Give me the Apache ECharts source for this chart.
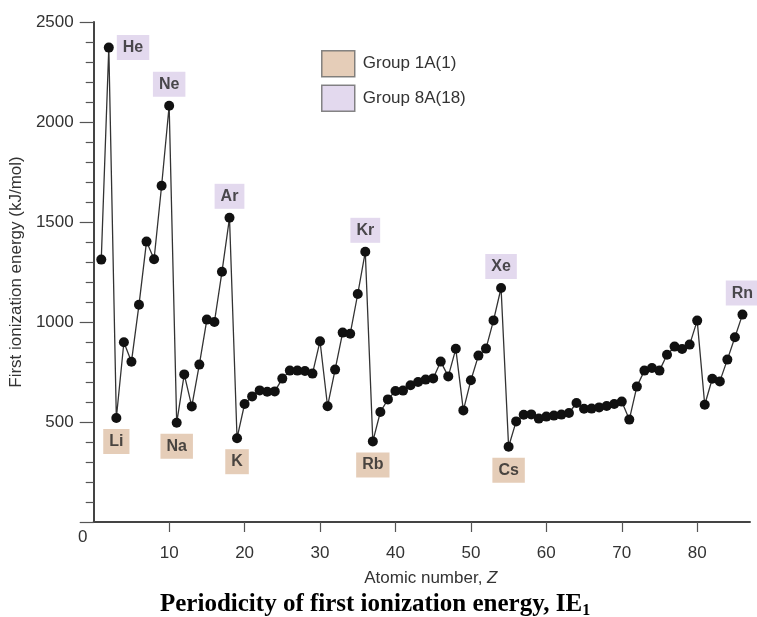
<!DOCTYPE html>
<html>
<head>
<meta charset="utf-8">
<script src="https://cdn.jsdelivr.net/npm/echarts@6/dist/echarts.min.js"></script>
<style>
  html, body { margin: 0; padding: 0; background: #fff; }
  #chart { width: 757px; height: 617px; }
</style>
</head>
<body>
<div id="chart"></div>
<script>
// first ionization energy (kJ/mol), Z = 1..86
const ie1 = [
  1312, 2372, 520, 899, 801, 1086, 1402, 1314, 1681, 2081,
  496, 738, 578, 787, 1012, 1000, 1251, 1521, 419, 590,
  628, 658, 651, 653, 717, 757, 757, 755, 742, 904,
  579, 762, 947, 941, 1140, 1351, 403, 550, 613, 655,
  657, 684, 700, 712, 718, 802, 728, 866, 558, 709,
  832, 867, 1008, 1170, 376, 503, 536, 538, 517, 527,
  532, 537, 545, 595, 566, 567, 573, 580, 590, 602,
  512, 677, 757, 770, 757, 836, 877, 865, 887, 1007,
  586, 716, 703, 812, 924, 1037
]
const atomicNumbers = ie1.map((_, i) => i + 1)

const group1Z = [3, 11, 19, 37, 55]
const group1Names = ['Li', 'Na', 'K', 'Rb', 'Cs']
const group18Z = [2, 10, 18, 36, 54, 86]
const group18Names = ['He', 'Ne', 'Ar', 'Kr', 'Xe', 'Rn']

const xTicks = [10, 20, 30, 40, 50, 60, 70, 80]

const tan = '#dfc0a6'
const lilac = '#dcd0ea'
const sans = 'Liberation Sans, Arial, sans-serif'
const serif = 'Liberation Serif, Times New Roman, serif'

const labelBox = {
  show: true,
  formatter: '{b}',
  fontFamily: sans,
  fontWeight: 'bold',
  fontSize: 16,
  lineHeight: 17,
  color: '#222',
  padding: [4, 6, 4, 6]
}

const chart = echarts.init(document.getElementById('chart'), null, { renderer: 'canvas' })

chart.setOption({
  backgroundColor: '#fff',
  animation: false,
  textStyle: { fontFamily: sans },
  title: {
    text: '{a|Periodicity of first ionization energy, IE}{s|1}',
    left: 160,
    top: 591,
    padding: 0,
    textStyle: {
      rich: {
        a: { fontFamily: serif, fontWeight: 'bold', fontSize: 25, color: '#000' },
        s: { fontFamily: serif, fontWeight: 'bold', fontSize: 16, color: '#000', padding: [12, 0, 0, 0] }
      }
    }
  },
  legend: {
    orient: 'vertical',
    left: 321,
    top: 50,
    padding: 0,
    itemWidth: 33,
    itemHeight: 26,
    itemGap: 7,
    selectedMode: false,
    textStyle: { fontSize: 17, color: '#333', padding: [0, 0, 0, 3] },
    data: [
      { name: 'Group 1A(1)', icon: 'rect', itemStyle: { color: tan, borderColor: '#666', borderWidth: 1.5 } },
      { name: 'Group 8A(18)', icon: 'rect', itemStyle: { color: lilac, borderColor: '#666', borderWidth: 1.5 } }
    ]
  },
  graphic: [
    { type: 'text', left: 78, top: 529, style: { text: '0', fontSize: 17, fill: '#333', fontFamily: sans } }
  ],
  grid: { left: 93, right: 7, top: 22, bottom: 95 },
  xAxis: {
    type: 'value',
    min: 0,
    max: 87,
    name: '{n|Atomic number, }{z|Z}',
    nameLocation: 'middle',
    nameGap: 48,
    nameTextStyle: {
      padding: [0, 0, 0, 18],
      rich: {
        n: { fontSize: 17, color: '#333' },
        z: { fontSize: 17, color: '#333', fontStyle: 'italic' }
      }
    },
    splitLine: { show: false },
    axisLine: { lineStyle: { color: '#444', width: 2 } },
    axisTick: { customValues: xTicks, length: 10, lineStyle: { color: '#555', width: 1.2 } },
    axisLabel: { customValues: xTicks, fontSize: 17, color: '#333', margin: 23 }
  },
  yAxis: {
    type: 'value',
    min: 0,
    max: 2500,
    interval: 500,
    name: 'First ionization energy (kJ/mol)',
    nameLocation: 'middle',
    nameGap: 68,
    nameTextStyle: { fontSize: 17, color: '#333' },
    splitLine: { show: false },
    axisLine: { show: true, lineStyle: { color: '#444', width: 2 } },
    axisTick: { show: true, length: 14, lineStyle: { color: '#555', width: 1.2 } },
    minorTick: { show: true, splitNumber: 5, length: 8, lineStyle: { color: '#555', width: 1.2 } },
    axisLabel: {
      fontSize: 17,
      color: '#333',
      margin: 20,
      formatter: (v) => (v === 0 ? '' : String(v))
    }
  },
  series: [
    {
      name: 'IE1',
      type: 'line',
      data: atomicNumbers.map((z, i) => [z, ie1[i]]),
      symbol: 'circle',
      symbolSize: 10,
      itemStyle: { color: '#111' },
      lineStyle: { color: '#333', width: 1.3 },
      z: 2
    },
    {
      name: 'Group 1A(1)',
      type: 'scatter',
      symbolSize: 0,
      itemStyle: { color: tan },
      label: { ...labelBox, backgroundColor: tan, position: 'bottom', distance: 11 },
      data: group1Z.map((z, i) => ({ name: group1Names[i], value: [z, ie1[z - 1]] })),
      z: 3
    },
    {
      name: 'Group 8A(18)',
      type: 'scatter',
      symbolSize: 0,
      itemStyle: { color: lilac },
      label: { ...labelBox, backgroundColor: lilac, position: 'top', distance: 9 },
      data: group18Z.map((z, i) => ({
        name: group18Names[i],
        value: [z, ie1[z - 1]],
        label: i === 0 ? { position: 'right', distance: 8 } : undefined
      })),
      z: 3
    }
  ]
})
</script>
</body>
</html>
